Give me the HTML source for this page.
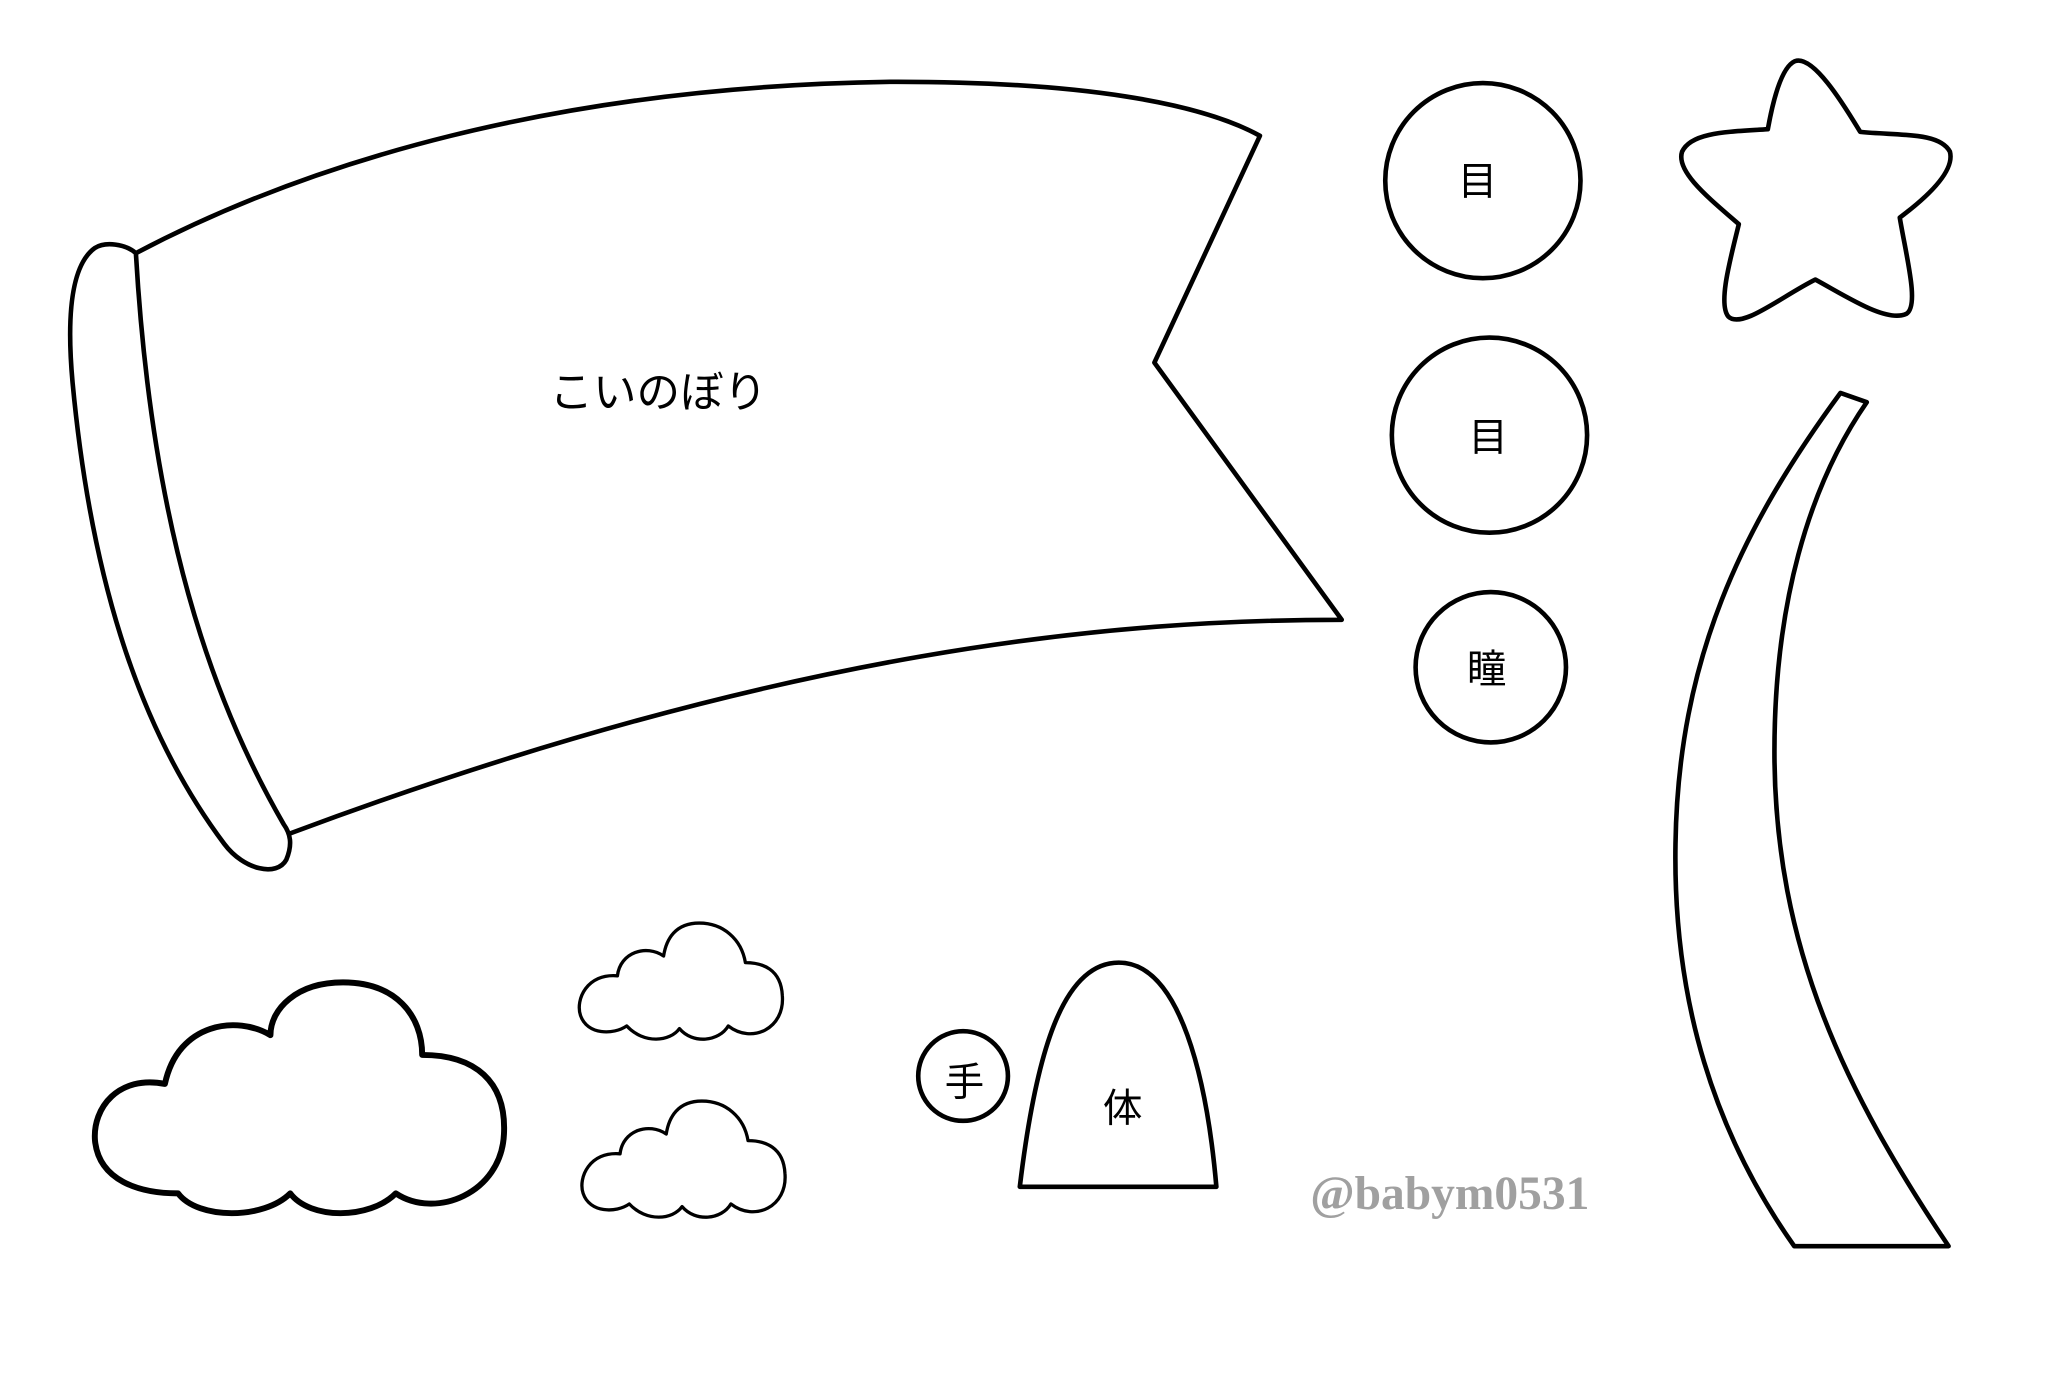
<!DOCTYPE html>
<html><head><meta charset="utf-8"><style>
html,body{margin:0;padding:0;background:#fff;}
svg{display:block;}
</style></head><body>
<svg width="2066" height="1378" viewBox="0 0 1566 1045" preserveAspectRatio="none" xmlns="http://www.w3.org/2000/svg">
<rect width="1566" height="1045" fill="#fff"/>
<g fill="none" stroke="#000" stroke-width="3.5" stroke-linejoin="round" stroke-linecap="round">
  <path d="M103,192 C230,125 420,65 680,62 C820,62 910,78 955,103 L875,275 L1017,470 C850,470 600,490 220,632"/>
  <path d="M103,192 C95,185 80,183 72,188 C55,200 50,235 55,290 C70,450 110,560 170,640 C185,660 210,665 217,652 C222,640 220,632 215,625 C160,530 115,400 103,192 Z"/>
  <circle cx="1124" cy="137" r="74"/>
  <circle cx="1129" cy="330" r="74"/>
  <circle cx="1130" cy="506" r="57"/>
  <circle cx="730" cy="816" r="34"/>
  <path d="M1340,98 C1345,70 1352,48 1362,46 C1375,44 1395,75 1410,100 C1440,103 1470,100 1478,115 C1482,130 1460,150 1440,165 C1445,195 1455,232 1445,238 C1430,245 1400,225 1376,212 C1350,225 1320,250 1310,240 C1302,230 1312,195 1318,170 C1295,150 1270,130 1275,115 C1282,100 1310,100 1340,98 Z"/>
  <path d="M1395,298 L1415,305 C1370,370 1345,460 1345,570 C1345,720 1400,830 1477,945 L1360,945 C1300,860 1268,760 1270,640 C1272,500 1320,400 1395,298 Z"/>
  <path d="M773,900 C785,800 805,730 848,730 C895,730 915,820 922,900 Z"/>
  <path d="M125,822 C90,815 70,840 72,865 C75,895 105,905 135,905 C150,925 200,925 220,905 C235,925 280,925 300,905 C330,925 380,905 382,860 C384,820 360,800 320,800 C320,770 300,745 260,745 C225,745 205,765 205,785 C180,770 135,775 125,822 Z" stroke-width="4.5"/>
  <path d="M468,740 C445,738 436,758 440,770 C445,785 465,785 475,778 C488,792 508,790 515,780 C525,792 545,790 552,778 C570,792 595,780 593,755 C592,735 578,730 565,730 C562,712 548,700 530,700 C512,700 505,712 503,725 C490,716 470,722 468,740 Z" stroke-width="2.5"/>
  <path transform="translate(2,135)" d="M468,740 C445,738 436,758 440,770 C445,785 465,785 475,778 C488,792 508,790 515,780 C525,792 545,790 552,778 C570,792 595,780 593,755 C592,735 578,730 565,730 C562,712 548,700 530,700 C512,700 505,712 503,725 C490,716 470,722 468,740 Z" stroke-width="2.5"/>
</g>
<g font-family="'Liberation Sans','Noto Sans CJK JP',sans-serif" fill="#000" text-anchor="middle">
  <text x="499" y="309" font-size="33">こいのぼり</text>
  <text x="1120" y="148" font-size="30">目</text>
  <text x="1128" y="342" font-size="30">目</text>
  <text x="1127" y="518" font-size="30">瞳</text>
  <text x="731" y="831" font-size="30">手</text>
  <text x="851" y="851" font-size="30">体</text>
</g>
<text x="1099" y="917" text-anchor="middle" font-family="'Liberation Serif',serif" font-weight="bold" font-size="36" fill="#a0a0a0">@babym0531</text>
</svg>
</body></html>
